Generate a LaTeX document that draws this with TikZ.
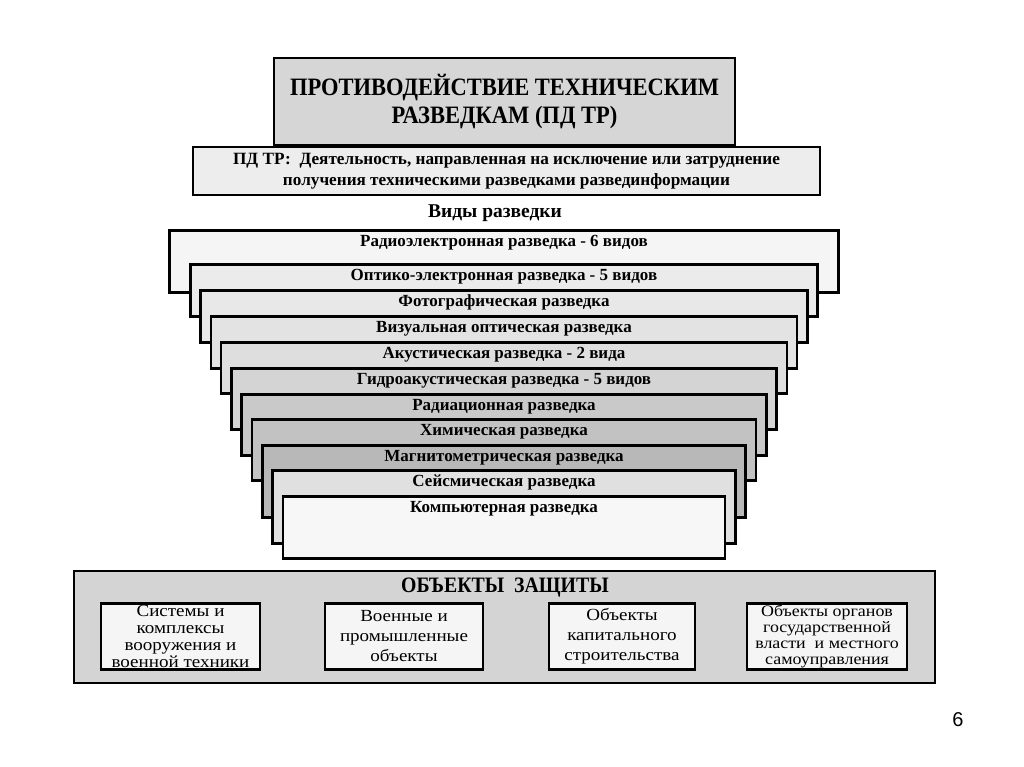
\documentclass[tikz,border=0pt]{standalone}
\usepackage{fontspec}
\setmainfont{Liberation Serif}
\newfontfamily\headfont{Liberation Serif}[FakeStretch=0.9]
\newfontfamily\objfont{Liberation Serif}[FakeStretch=1.12]
\newfontfamily\pagefont{Liberation Sans}
\usetikzlibrary{positioning}
\tikzset{head box/.style={draw,line width=2.6pt,fill=black!16,minimum width=461pt,minimum height=87pt,align=center,font=\headfont\bfseries\fontsize{25}{28}\selectfont},
note box/.style={draw,line width=1.6pt,fill=black!7,minimum width=627pt,minimum height=48pt,align=center,font=\bfseries\fontsize{17.2}{21}\selectfont},
step box/.style={draw,line width=2.6pt,anchor=north,inner sep=0pt,text height=16.5pt,font=\bfseries\fontsize{17}{19}\selectfont},
obj box/.style={draw,line width=2.6pt,fill=black!4,minimum height=66pt,inner sep=0pt,align=center,font=\objfont\fontsize{17}{17}\selectfont},
}

\begin{document}
\begin{tikzpicture}[x=1pt,y=-1pt]
		\useasboundingbox (0,0) rectangle (1024,767);
		
		\node[note box] (def) at (506.5,171) {ПД ТР:~~Деятельность, направленная на исключение или затруднение\\получения техническими разведками развединформации};
		\node[head box] (title)[above = 0pt of def, xshift=-2pt] {ПРОТИВОДЕЙСТВИЕ ТЕХНИЧЕСКИМ\\РАЗВЕДКАМ (ПД ТР)};
		\node[font=\bfseries\fontsize{19.5}{21}\selectfont] (vidy) at (495,213) {Виды разведки};
		
		% stairs of the kinds of intelligence
		\node[step box,fill=black!4,minimum width=669pt,text depth=45.5pt] (r1) at (504,229) {Радиоэлектронная разведка - 6 видов};
		\node[step box,fill=black!8,minimum width=627pt,text depth=35.5pt] (r2) at (504,263) {Оптико-электронная разведка - 5 видов};
		\node[step box,fill=black!9,minimum width=607pt,text depth=35.5pt] (r3) at (504,289) {Фотографическая разведка};
		\node[step box,fill=black!11,minimum width=586pt,text depth=35.5pt] (r4) at (504,315) {Визуальная оптическая разведка};
		\node[step box,fill=black!13,minimum width=566pt,text depth=34.5pt] (r5) at (504,341) {Акустическая разведка - 2 вида};
		\node[step box,fill=black!17,minimum width=545pt,text depth=44.5pt] (r6) at (504,367) {Гидроакустическая разведка - 5 видов};
		\node[step box,fill=black!21,minimum width=525pt,text depth=44.5pt] (r7) at (504,393) {Радиационная разведка};
		\node[step box,fill=black!24,minimum width=504pt,text depth=44.5pt] (r8) at (504,418) {Химическая разведка};
		\node[step box,fill=black!28,minimum width=483pt,text depth=55.5pt] (r9) at (504,444) {Магнитометрическая разведка};
		\node[step box,fill=black!12,minimum width=463pt,text depth=56.5pt] (r10) at (504,469) {Сейсмическая разведка};
		\node[step box,fill=black!3,minimum width=442pt,text depth=45.5pt] (r11) at (504,495) {Компьютерная разведка};
		
		% objects of protection
		\node[draw,line width=2.6pt,fill=black!17,minimum width=861pt,minimum height=112pt] (obj) at (504.5,627) {};
		\node[font=\headfont\bfseries\fontsize{22}{22}\selectfont] (objtitle) at (505,587.5) {ОБЪЕКТЫ~~ЗАЩИТЫ};
		\node[obj box,minimum width=159pt] (o1) at (180.5,636.5) {Системы и\\комплексы\\вооружения и\\военной техники};
		\node[obj box,minimum width=158pt,font=\objfont\fontsize{17}{20}\selectfont] (o2) at (404,636.5) {Военные и\\промышленные\\объекты};
		\node[obj box,minimum width=146pt,font=\objfont\fontsize{17}{20}\selectfont] (o3) at (622,636.5) {Объекты\\капитального\\строительства};
		\node[obj box,minimum width=160pt,font=\objfont\fontsize{16}{16}\selectfont] (o4) at (827,636.5) {Объекты органов\\государственной\\власти~ и местного\\самоуправления};
		
		\node[font=\pagefont\fontsize{20}{20}\selectfont] (pnum) at (958,720) {6};
	\end{tikzpicture}
\end{document}
